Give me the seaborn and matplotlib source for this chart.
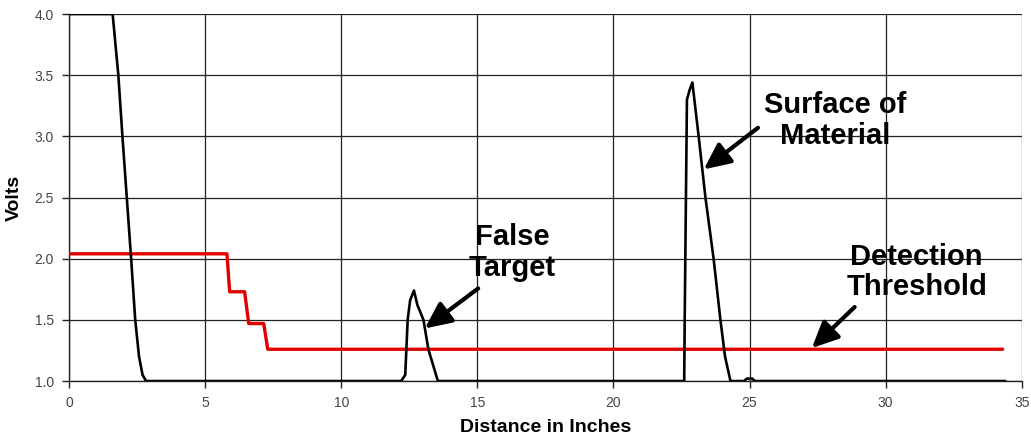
import matplotlib
matplotlib.use("Agg")
import matplotlib.pyplot as plt
import seaborn as sns
import pandas as pd

# Received signal (black)
signal_x = [0, 1.6, 1.81, 1.96, 2.12, 2.28, 2.43, 2.57, 2.7, 2.83,
            12.2, 12.35, 12.44, 12.53, 12.67, 12.8, 13.02, 13.2, 13.55,
            22.6, 22.62, 22.7, 22.8, 22.9, 23.13, 23.38, 23.68, 23.93, 24.1, 24.3,
            24.8, 24.9, 25.1, 25.2, 34.4]
signal_y = [4.0, 4.0, 3.5, 3.0, 2.5, 2.0, 1.5, 1.2, 1.05, 1.0,
            1.0, 1.05, 1.5, 1.66, 1.74, 1.62, 1.5, 1.26, 1.0,
            1.0, 1.55, 3.3, 3.38, 3.44, 3.0, 2.5, 2.0, 1.5, 1.2, 1.0,
            1.0, 1.02, 1.02, 1.0, 1.0]

# Detection threshold (red)
thresh_x = [0, 5.8, 5.9, 6.45, 6.6, 7.15, 7.3, 34.3]
thresh_y = [2.04, 2.04, 1.73, 1.73, 1.47, 1.47, 1.26, 1.26]

x_ticks = [0, 5, 10, 15, 20, 25, 30, 35]
y_ticks = [1.0, 1.5, 2.0, 2.5, 3.0, 3.5, 4.0]

sns.set_style("white")
plt.rcParams['font.family'] = ['Liberation Sans', 'DejaVu Sans']
plt.rcParams['text.color'] = 'black'
plt.rcParams['axes.labelcolor'] = 'black'

fig = plt.figure(figsize=(10.31, 4.38), dpi=100)
ax = fig.add_axes([0.067, 0.130, 0.924, 0.838])

sig_df = pd.DataFrame({"x": signal_x, "y": signal_y})
thr_df = pd.DataFrame({"x": thresh_x, "y": thresh_y})

sns.lineplot(data=thr_df, x="x", y="y", ax=ax, color="#e00000", lw=2.4,
             sort=False, estimator=None, zorder=3)
sns.lineplot(data=sig_df, x="x", y="y", ax=ax, color="black", lw=1.9,
             sort=False, estimator=None, zorder=4)

ax.set_xlim(0, 35)
ax.set_ylim(1.0, 4.0)
ax.set_xticks(x_ticks)
ax.set_yticks(y_ticks)
ax.set_xticklabels([str(t) for t in x_ticks])
ax.set_yticklabels([f"{t:.1f}" for t in y_ticks])
ax.grid(True, color="#222222", lw=0.9)
ax.set_axisbelow(True)
for s in ["top", "right"]:
    ax.spines[s].set_visible(False)
for s in ["left", "bottom"]:
    ax.spines[s].set_color("#222222")
    ax.spines[s].set_linewidth(1.0)
ax.tick_params(axis="both", which="both", direction="out", length=5, width=1,
               color="#222222", labelsize=10, labelcolor="#444444",
               bottom=True, left=True, pad=6)

ax.set_xlabel("Distance in Inches", fontsize=14, fontweight="bold", labelpad=6)
ax.set_ylabel("Volts", fontsize=14, fontweight="bold", labelpad=8)

arrow = dict(arrowstyle="-|>,head_length=1.6,head_width=0.75", lw=3.0,
             color="black", shrinkA=0, shrinkB=0)
ax.text(16.27, 2.05, "False\nTarget", ha="center", va="center",
        fontsize=21, fontweight="bold", linespacing=1.12)
ax.annotate("", xy=(13.07, 1.43), xytext=(15.03, 1.757), arrowprops=arrow)

ax.text(28.13, 3.13, "Surface of\nMaterial", ha="center", va="center",
        fontsize=21, fontweight="bold", linespacing=1.12)
ax.annotate("", xy=(23.32, 2.73), xytext=(25.31, 3.07), arrowprops=arrow)

ax.text(31.14, 1.89, "Detection\nThreshold", ha="center", va="center",
        fontsize=21, fontweight="bold", linespacing=1.12)
ax.annotate("", xy=(27.29, 1.27), xytext=(28.86, 1.605), arrowprops=arrow)

fig.savefig("out.png", dpi=100)
